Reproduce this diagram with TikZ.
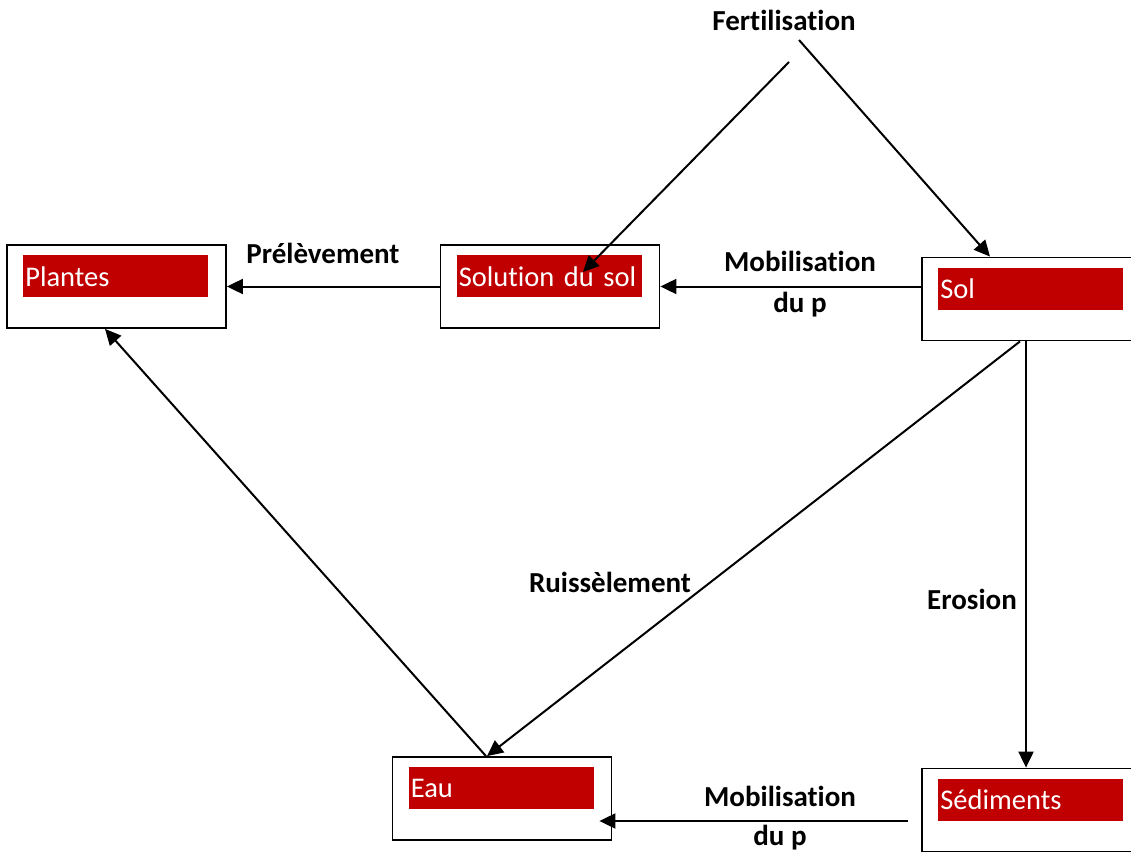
\documentclass[tikz,border=0pt]{standalone}
\usepackage{fontspec}
\setmainfont{Carlito}[RawFeature=-liga]
\usetikzlibrary{arrows.meta}
\definecolor{boxred}{RGB}{192,0,0}
\tikzset{
  compart/.style={draw, line width=1.8pt, minimum width=219pt, minimum height=83pt, inner sep=0pt},
  redlabel/.style={fill=boxred, text=white, anchor=north west, minimum width=185pt, minimum height=42pt,
    inner xsep=2pt, inner ysep=0pt, text width=181pt, align=left, font=\fontsize{28.5}{34}\selectfont},
  flux/.style={anchor=base, font=\fontsize{29}{34}\selectfont\bfseries},
  arr/.style={line width=2pt, -{Triangle[length=16pt,width=15pt]}}
}
\begin{document}
\begin{tikzpicture}[x=1pt, y=-1pt]
	\useasboundingbox (0,0) rectangle (1131,853);
	
	\node[compart] (plantes) at (116.5,286.5) {};
	\node[compart] (solution) at (550,286.5) {};
	\node[compart] (sol) at (1031.5,299) {};
	\node[compart] (eau) at (502,798.5) {};
	\node[compart] (sed) at (1031.5,810) {};
	
	\node[redlabel] (plantes-t) at ([xshift=17pt,yshift=-11pt]plantes.north west) {Plantes};
	\node[redlabel] (solution-t) at ([xshift=17pt,yshift=-11pt]solution.north west) {Solution du sol};
	\node[redlabel] (sol-t) at ([xshift=17pt,yshift=-11pt]sol.north west) {Sol};
	\node[redlabel] (eau-t) at ([xshift=17pt,yshift=-11pt]eau.north west) {Eau};
	\node[redlabel] (sed-t) at ([xshift=17pt,yshift=-11pt]sed.north west) {Sédiments};
	
	\node[flux] (fert) at (784,31) {Fertilisation};
	\node[flux] (prel) at (323,263) {Prélèvement};
	\node[flux] (mob1) at (800,271) {Mobilisation};
	\node[flux] (dup1) at (800,312) {du p};
	\node[flux] (ruis) at (610,592) {Ruissèlement};
	\node[flux] (eros) at (972,609) {Erosion};
	\node[flux] (mob2) at (780,806) {Mobilisation};
	\node[flux] (dup2) at (780,845) {du p};
	
	\coordinate (f1) at (789,62);
	\coordinate (f2) at (799,40);
	\coordinate (solin) at (583,272);
	
	\draw[arr] (f1) -- (solin);
	\draw[arr] (f2) -- ([xshift=-41.5pt]sol.north);
	\draw[arr] (solution.west) -- (plantes.east);
	\draw[arr] (solution.east -| sol.west) -- (solution.east);
	\draw[arr] ([xshift=-11.5pt]sol.south) -- ([xshift=-15pt]eau.north);
	\draw[arr] ([xshift=-5.5pt]sol.south) -- ([xshift=-5.5pt]sed.north);
	\draw[arr] ([xshift=-16pt]eau.north) -- ([xshift=-11.5pt]plantes.south);
	\draw[arr] ([xshift=-13pt,yshift=-11pt]sed.west) -- ([xshift=-13pt,yshift=-11pt]sed.west -| eau.east);
	
\end{tikzpicture}
\end{document}
